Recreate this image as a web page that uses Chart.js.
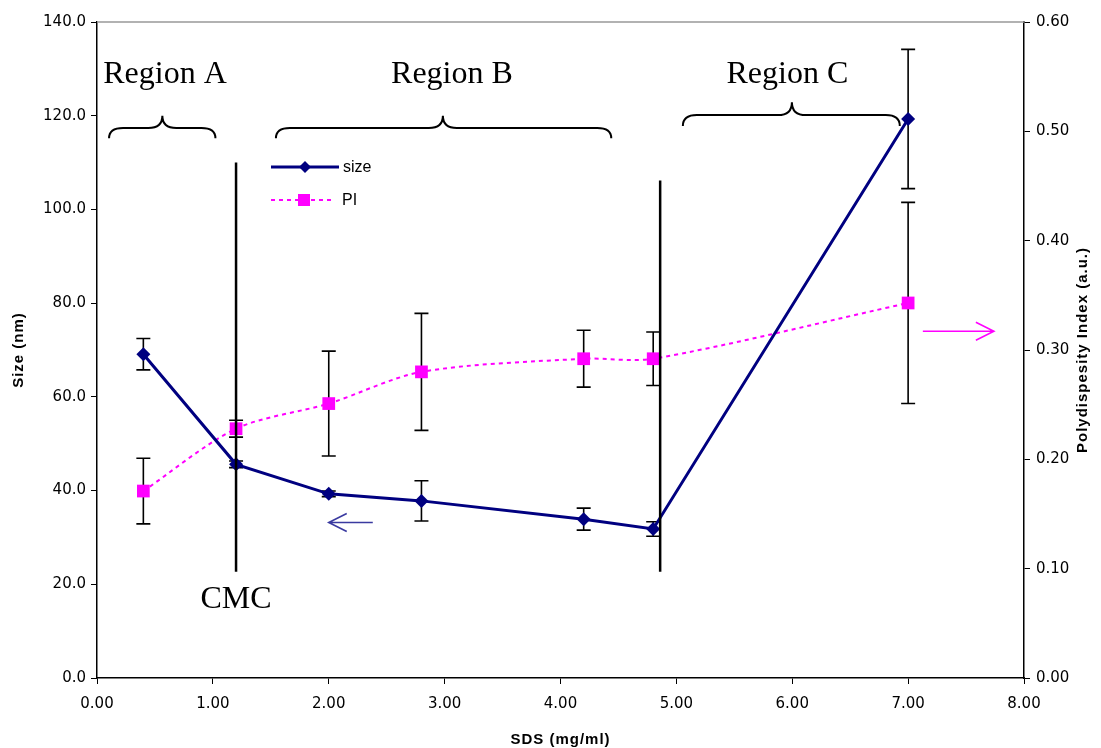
<!DOCTYPE html>
<html lang="en">
<head>
    <meta charset="UTF-8">
    <title>Size and PI vs SDS</title>
    <script src="https://cdn.jsdelivr.net/npm/chart.js"></script>
    <style>
        body {
            margin: 0;
            padding: 0;
            background-color: #ffffff;
        }
        #chartBox {
            width: 1101px;
            height: 748px;
        }
    </style>
</head>
<body>
    <div id="chartBox">
        <canvas id="sdsChart" width="1101" height="748"></canvas>
    </div>

    <script>
        // Data
        const sdsConc = [0.4, 1.2, 2.0, 2.8, 4.2, 4.8, 7.0];
        const sizeNm = [69.1, 45.6, 39.3, 37.8, 33.9, 31.8, 119.3];
        const sizeErr = [3.35, 0.7, 0.6, 4.3, 2.35, 1.55, 14.85];
        const piValues = [0.171, 0.228, 0.251, 0.280, 0.292, 0.292, 0.343];
        const piErr = [0.030, 0.0077, 0.048, 0.0535, 0.026, 0.0245, 0.092];

        // Axis ticks and titles
        const xTicks = [0, 1, 2, 3, 4, 5, 6, 7, 8];
        const sizeTicks = [0, 20, 40, 60, 80, 100, 120, 140];
        const piTicks = [0, 0.1, 0.2, 0.3, 0.4, 0.5, 0.6];
        const xTitle = 'SDS (mg/ml)';
        const sizeTitle = 'Size (nm)';
        const piTitle = 'Polydispesity Index (a.u.)';

        // Annotations (in data units)
        const regionLabels = ['Region A', 'Region B', 'Region C'];
        const regionX = [0.587, 3.063, 5.958];
        const braceFrom = [0.104, 1.544, 5.056];
        const braceTo = [1.022, 4.438, 6.928];
        const braceTip = [0.564, 2.985, 5.997];
        const braceTipY = [120.0, 120.0, 122.9];
        const braceEndY = [115.2, 115.2, 117.8];
        const markerLineX = [1.2, 4.86];
        const markerLineTop = [110.0, 106.2];
        const markerLineBottom = [22.7, 22.7];

        const navy = '#000080';
        const pink = '#ff00ff';
        const tickFont = { family: 'DejaVu Sans', size: 15 };
        const titleFontCss = "bold 15px 'Liberation Sans', Arial, sans-serif";

        const sizePoints = sdsConc.map((x, i) => ({ x: x, y: sizeNm[i] }));
        const piPoints = sdsConc.map((x, i) => ({ x: x, y: piValues[i] }));

        // error bars, drawn under the markers
        const errorBars = {
            id: 'errorBars',
            beforeDatasetsDraw(chart) {
                const ctx = chart.ctx;
                const xs = chart.scales.x;
                const sets = [
                    { scale: chart.scales.y, vals: sizeNm, errs: sizeErr },
                    { scale: chart.scales.y1, vals: piValues, errs: piErr }
                ];
                ctx.save();
                ctx.strokeStyle = '#000';
                ctx.lineWidth = 1.6;
                sets.forEach(s => {
                    sdsConc.forEach((x, i) => {
                        const px = xs.getPixelForValue(x);
                        const top = s.scale.getPixelForValue(s.vals[i] + s.errs[i]);
                        const bot = s.scale.getPixelForValue(s.vals[i] - s.errs[i]);
                        ctx.beginPath();
                        ctx.moveTo(px, top);
                        ctx.lineTo(px, bot);
                        ctx.moveTo(px - 7, top);
                        ctx.lineTo(px + 7, top);
                        ctx.moveTo(px - 7, bot);
                        ctx.lineTo(px + 7, bot);
                        ctx.stroke();
                    });
                });
                ctx.restore();
            }
        };

        function drawArrow(ctx, x1, y1, x2, y2, color) {
            const dir = Math.sign(x2 - x1);
            ctx.save();
            ctx.strokeStyle = color;
            ctx.lineWidth = 1.6;
            ctx.beginPath();
            ctx.moveTo(x1, y1);
            ctx.lineTo(x2, y2);
            ctx.moveTo(x2 - dir * 18, y2 - 9);
            ctx.lineTo(x2, y2);
            ctx.lineTo(x2 - dir * 18, y2 + 9);
            ctx.stroke();
            ctx.restore();
        }

        function drawBrace(ctx, x1, x2, xt, yt, ye) {
            const yf = (yt + ye) / 2 + 1;
            const r = 14;
            ctx.beginPath();
            ctx.moveTo(x1, ye);
            ctx.quadraticCurveTo(x1, yf, x1 + r, yf);
            ctx.lineTo(xt - r, yf);
            ctx.quadraticCurveTo(xt, yf, xt, yt);
            ctx.quadraticCurveTo(xt, yf, xt + r, yf);
            ctx.lineTo(x2 - r, yf);
            ctx.quadraticCurveTo(x2, yf, x2, ye);
            ctx.stroke();
        }

        const annotations = {
            id: 'annotations',
            afterDatasetsDraw(chart) {
                const ctx = chart.ctx;
                const xs = chart.scales.x;
                const ys = chart.scales.y;
                const area = chart.chartArea;
                ctx.save();

                // top frame line
                ctx.strokeStyle = '#999';
                ctx.lineWidth = 1.5;
                ctx.beginPath();
                ctx.moveTo(area.left, area.top);
                ctx.lineTo(area.right, area.top);
                ctx.stroke();

                // vertical marker lines
                ctx.strokeStyle = '#000';
                ctx.lineWidth = 2.5;
                markerLineX.forEach((x, i) => {
                    const px = xs.getPixelForValue(x);
                    ctx.beginPath();
                    ctx.moveTo(px, ys.getPixelForValue(markerLineTop[i]));
                    ctx.lineTo(px, ys.getPixelForValue(markerLineBottom[i]));
                    ctx.stroke();
                });

                // braces
                ctx.lineWidth = 2;
                braceFrom.forEach((x, i) => {
                    drawBrace(ctx, xs.getPixelForValue(x), xs.getPixelForValue(braceTo[i]),
                        xs.getPixelForValue(braceTip[i]), ys.getPixelForValue(braceTipY[i]),
                        ys.getPixelForValue(braceEndY[i]));
                });

                // region texts
                ctx.fillStyle = '#000';
                ctx.font = "32px 'Liberation Serif', 'Times New Roman', serif";
                ctx.textAlign = 'center';
                ctx.textBaseline = 'alphabetic';
                regionLabels.forEach((t, i) => {
                    ctx.fillText(t, xs.getPixelForValue(regionX[i]), ys.getPixelForValue(127.0));
                });
                ctx.fillText('CMC', xs.getPixelForValue(1.2), ys.getPixelForValue(14.9));

                // arrows pointing to the axis each series uses
                drawArrow(ctx, xs.getPixelForValue(2.38), ys.getPixelForValue(33.2),
                    xs.getPixelForValue(2.0), ys.getPixelForValue(33.2), '#3a3aa0');
                drawArrow(ctx, xs.getPixelForValue(7.127), ys.getPixelForValue(74.0),
                    xs.getPixelForValue(7.74), ys.getPixelForValue(74.0), pink);

                // legend inside the plot
                const lx = 271, ly1 = 167, ly2 = 200;
                ctx.strokeStyle = navy;
                ctx.lineWidth = 3;
                ctx.beginPath();
                ctx.moveTo(lx, ly1);
                ctx.lineTo(lx + 68, ly1);
                ctx.stroke();
                ctx.fillStyle = navy;
                ctx.beginPath();
                ctx.moveTo(lx + 34, ly1 - 6);
                ctx.lineTo(lx + 40, ly1);
                ctx.lineTo(lx + 34, ly1 + 6);
                ctx.lineTo(lx + 28, ly1);
                ctx.closePath();
                ctx.fill();
                ctx.strokeStyle = pink;
                ctx.lineWidth = 2;
                ctx.setLineDash([4, 4]);
                ctx.beginPath();
                ctx.moveTo(lx, ly2);
                ctx.lineTo(lx + 64, ly2);
                ctx.stroke();
                ctx.setLineDash([]);
                ctx.fillStyle = pink;
                ctx.fillRect(lx + 27, ly2 - 6, 12, 12);
                ctx.fillStyle = '#000';
                ctx.font = "16px 'Liberation Sans', Arial, sans-serif";
                ctx.textAlign = 'left';
                ctx.textBaseline = 'middle';
                ctx.fillText('size', lx + 72, ly1 + 1);
                ctx.fillText('PI', lx + 71, ly2 + 1);

                // axis titles
                const midY = (area.top + area.bottom) / 2;
                ctx.font = titleFontCss;
                ctx.textAlign = 'center';
                ctx.letterSpacing = '1px';
                ctx.fillText(xTitle, (area.left + area.right) / 2, 740);
                ctx.save();
                ctx.translate(19, midY);
                ctx.rotate(-Math.PI / 2);
                ctx.fillText(sizeTitle, 0, 0);
                ctx.restore();
                ctx.save();
                ctx.translate(1083, midY);
                ctx.rotate(-Math.PI / 2);
                ctx.fillText(piTitle, 0, 0);
                ctx.restore();

                ctx.restore();
            }
        };

        const ctx = document.getElementById('sdsChart').getContext('2d');
        const chart = new Chart(ctx, {
            type: 'line',
            data: {
                datasets: [{
                    label: 'size',
                    data: sizePoints,
                    yAxisID: 'y',
                    borderColor: navy,
                    backgroundColor: navy,
                    borderWidth: 3,
                    pointStyle: 'rectRot',
                    pointRadius: 7,
                    pointBorderWidth: 0,
                    tension: 0,
                }, {
                    label: 'PI',
                    data: piPoints,
                    yAxisID: 'y1',
                    borderColor: pink,
                    backgroundColor: pink,
                    borderWidth: 2,
                    borderDash: [4, 4],
                    pointStyle: 'rect',
                    pointRadius: 9,
                    pointBorderWidth: 0,
                    tension: 0.3,
                }],
            },
            options: {
                responsive: false,
                animation: false,
                layout: { padding: { top: 22 } },
                plugins: {
                    legend: { display: false },
                    tooltip: { enabled: false },
                },
                scales: {
                    x: {
                        type: 'linear',
                        min: 0,
                        max: 8,
                        afterBuildTicks: s => { s.ticks = xTicks.map(v => ({ value: v })); },
                        afterFit: s => { s.height = 70; },
                        ticks: { font: tickFont, color: '#000', padding: 11, callback: v => v.toFixed(2) },
                        grid: { drawOnChartArea: false, tickLength: 6, color: '#000', lineWidth: 1 },
                        border: { color: '#000', width: 1.5 },
                    },
                    y: {
                        position: 'left',
                        min: 0,
                        max: 140,
                        afterBuildTicks: s => { s.ticks = sizeTicks.map(v => ({ value: v })); },
                        afterFit: s => { s.width = 97; },
                        ticks: { font: tickFont, color: '#000', padding: 5, callback: v => v.toFixed(1) },
                        grid: { drawOnChartArea: false, tickLength: 6, color: '#000', lineWidth: 1 },
                        border: { color: '#000', width: 1.5 },
                    },
                    y1: {
                        position: 'right',
                        min: 0,
                        max: 0.6,
                        afterBuildTicks: s => { s.ticks = piTicks.map(v => ({ value: v })); },
                        afterFit: s => { s.width = 77; },
                        ticks: { font: tickFont, color: '#000', padding: 6, callback: v => v.toFixed(2) },
                        grid: { drawOnChartArea: false, tickLength: 6, color: '#000', lineWidth: 1 },
                        border: { color: '#000', width: 1.5 },
                    },
                },
            },
            plugins: [errorBars, annotations],
        });
    </script>
</body>
</html>
